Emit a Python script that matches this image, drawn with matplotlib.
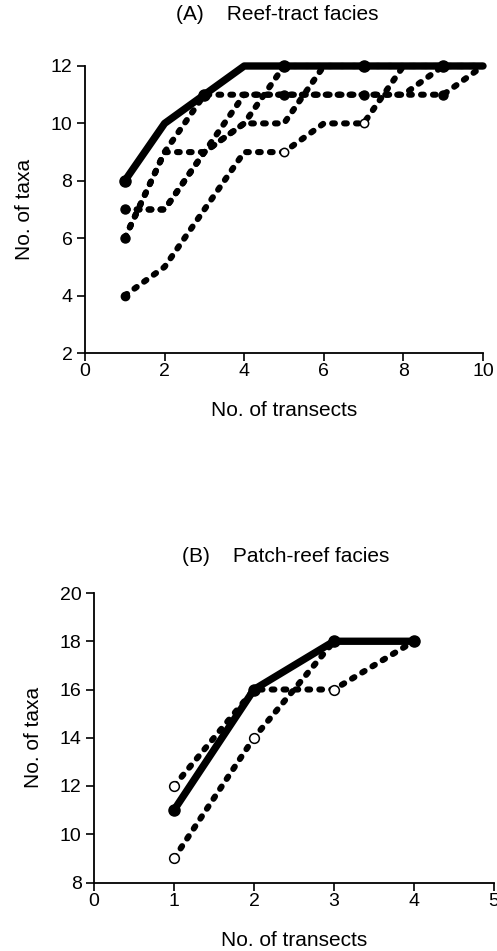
import matplotlib
matplotlib.use("Agg")
import matplotlib.pyplot as plt

plt.rcParams['font.family'] = ['Liberation Sans', 'DejaVu Sans']

# ---------------- Data: panel A (Reef-tract facies) ----------------
transects_a = [1, 2, 3, 4, 5, 6, 7, 8, 9, 10]
a_solid = [8, 10, 11, 12, 12, 12, 12, 12, 12, 12]
a_run2 = [7, 7, 9, 11, 11, 11, 11, 11, 12, 12]
a_run3 = [6, 9, 11, 11, 11, 11, 11, 11, 11, 12]
a_run4 = [6, 9, 9, 10, 10, 12, 12, 12, 12, 12]
a_run5 = [7, 7, 9, 10, 12, 12, 12, 12, 12, 12]
a_run6 = [4, 5, 7, 9, 9, 10, 10, 12, 12, 12]
a_yticks = [2, 4, 6, 8, 10, 12]
a_xticks = [0, 2, 4, 6, 8, 10]

# ---------------- Data: panel B (Patch-reef facies) ----------------
transects_b = [1, 2, 3, 4]
b_solid = [11, 16, 18, 18]
b_run2 = [12, 16, 16, 18]
transects_b3 = [1, 2, 3]
b_run3 = [9, 14, 18]
b_yticks = [8, 10, 12, 14, 16, 18, 20]
b_xticks = [0, 1, 2, 3, 4, 5]

W, H = 497, 951
fig = plt.figure(figsize=(W / 100, H / 100), dpi=100)

FS = 14
FL = 15
DOT = dict(color='black', lw=4.4, linestyle=(0, (0.45, 1.5)),
           dash_capstyle='round', solid_capstyle='round')
SOLID = dict(color='black', lw=5.3, solid_capstyle='round',
             solid_joinstyle='round')


def style_axes(ax, xlim, ylim, xticks, yticks):
    ax.set_xlim(*xlim)
    ax.set_ylim(*ylim)
    ax.set_xticks(xticks)
    ax.set_yticks(yticks)
    for s in ('top', 'right'):
        ax.spines[s].set_visible(False)
    for s in ('left', 'bottom'):
        ax.spines[s].set_linewidth(1.3)
    ax.tick_params(direction='out', length=6, width=1.2, labelsize=FS)
    ax.tick_params(axis='y', pad=3)
    ax.tick_params(axis='x', pad=1.5)
    ax.set_xlabel('No. of transects', fontsize=FL, labelpad=15)
    ax.set_ylabel('No. of taxa', fontsize=FL, labelpad=12)
    ax.patch.set_visible(False)


def marks(ax, xs, ys, filled=(), hollow=(), size=6.5):
    for i in filled:
        ax.plot(xs[i], ys[i], 'o', ms=size, mfc='black', mec='black',
                clip_on=False, zorder=6)
    for i in hollow:
        ax.plot(xs[i], ys[i], 'o', ms=size, mfc='white', mec='black',
                mew=1.1, clip_on=False, zorder=6)


# ---------------- Panel A ----------------
axA = fig.add_axes([85 / W, 1 - 353 / H, 398 / W, 287 / H])
style_axes(axA, (0, 10), (2, 12), a_xticks, a_yticks)
for ys in (a_run2, a_run3, a_run4, a_run5, a_run6):
    axA.plot(transects_a, ys, clip_on=False, zorder=3, **DOT)
axA.plot(transects_a, a_solid, clip_on=False, zorder=4, **SOLID)
marks(axA, transects_a, a_solid, filled=[0, 2, 4, 6, 8], size=8)
marks(axA, transects_a, a_run2, filled=[0])
marks(axA, transects_a, a_run3, filled=[0, 4, 6, 8])
marks(axA, transects_a, a_run6, filled=[0], hollow=[4, 6], size=6)
fig.text(277 / W, 1 - 14 / H, '(A)    Reef-tract facies', ha='center',
         va='center', fontsize=FL)

# ---------------- Panel B ----------------
axB = fig.add_axes([94 / W, 1 - 882.5 / H, 400 / W, 289.5 / H])
style_axes(axB, (0, 5), (8, 20), b_xticks, b_yticks)
axB.plot(transects_b, b_run2, clip_on=False, zorder=3, **DOT)
axB.plot(transects_b3, b_run3, clip_on=False, zorder=3, **DOT)
axB.plot(transects_b, b_solid, clip_on=False, zorder=4, **SOLID)
marks(axB, transects_b, b_solid, filled=[0, 1, 2, 3], size=8)
marks(axB, transects_b, b_run2, hollow=[0, 2], size=7)
marks(axB, transects_b3, b_run3, hollow=[0, 1], size=7)
fig.text(286 / W, 1 - 557 / H, '(B)    Patch-reef facies', ha='center',
         va='center', fontsize=FL)

fig.savefig('out.png', dpi=100, facecolor='white')
